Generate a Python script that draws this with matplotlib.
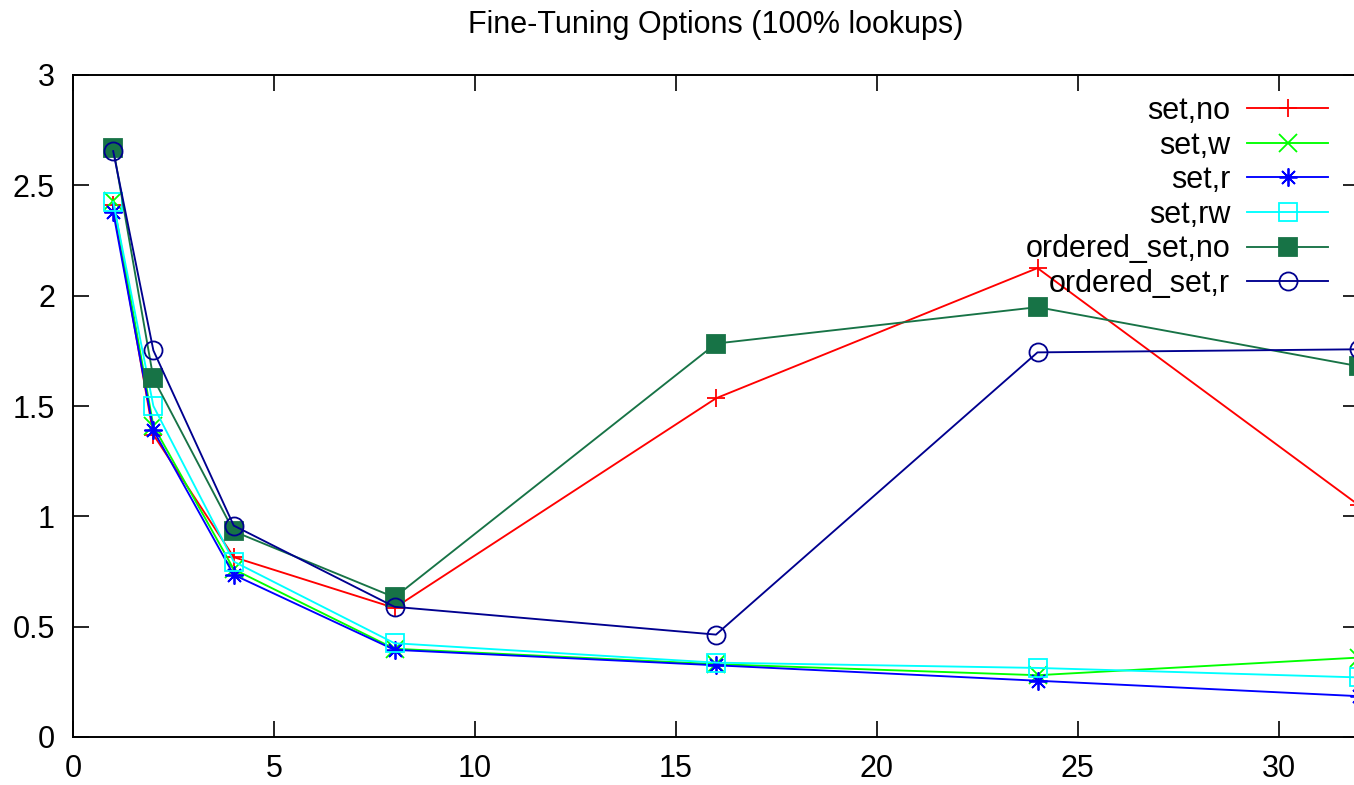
import matplotlib
matplotlib.use("Agg")
import matplotlib.pyplot as plt

plt.rcParams['font.family'] = ['Liberation Sans', 'DejaVu Sans']

threads = [1, 2, 4, 8, 16, 24, 32]

set_no = [2.41, 1.37, 0.815, 0.585, 1.535, 2.125, 1.05]
set_w = [2.43, 1.41, 0.76, 0.40, 0.33, 0.28, 0.36]
set_r = [2.38, 1.39, 0.735, 0.395, 0.325, 0.255, 0.185]
set_rw = [2.425, 1.50, 0.795, 0.425, 0.337, 0.313, 0.27]
ordered_set_no = [2.67, 1.625, 0.932, 0.633, 1.783, 1.948, 1.68]
ordered_set_r = [2.655, 1.752, 0.958, 0.59, 0.464, 1.743, 1.757]

labels = ["set,no", "set,w", "set,r", "set,rw", "ordered_set,no", "ordered_set,r"]
series = [set_no, set_w, set_r, set_rw, ordered_set_no, ordered_set_r]
colors = ["#ff0000", "#00ff00", "#0000ff", "#00ffff", "#177346", "#00008f"]
markers = ["+", "x", (8, 2, 0), "s", "s", "o"]
fills = ["full", "full", "full", "none", "full", "none"]

xticks = [0, 5, 10, 15, 20, 25, 30]
yticks = [0, 0.5, 1, 1.5, 2, 2.5, 3]
yticklabels = ["0", "0.5", "1", "1.5", "2", "2.5", "3"]

W, H = 1354, 785
fig = plt.figure(figsize=(W / 100, H / 100), dpi=100)
ax = fig.add_axes([73 / W, 48 / H, (1359 - 73) / W, (737 - 75) / H])

for lab, ys, c, m, f in zip(labels, series, colors, markers, fills):
    ax.plot(threads, ys, color=c, marker=m, fillstyle=f, markersize=13,
            markeredgewidth=1.3, linewidth=1.35, label=lab)

ax.set_xlim(0, 32)
ax.set_ylim(0, 3)
ax.set_xticks(xticks)
ax.set_xticklabels([str(t) for t in xticks])
ax.set_yticks(yticks)
ax.set_yticklabels(yticklabels)
ax.tick_params(direction='in', length=11.5, width=1.2, labelsize=22,
               top=True, right=True, pad=13)
ax.tick_params(axis='x', pad=12.5)
for s in ax.spines.values():
    s.set_linewidth(1.4)

ax.set_title("Fine-Tuning Options (100% lookups)", fontsize=22, pad=30.5)

leg = ax.legend(loc='upper right', bbox_to_anchor=(1328 / W, 1 - 96 / H),
                bbox_transform=fig.transFigure, frameon=False, markerfirst=False,
                fontsize=22, borderpad=0, borderaxespad=0, handlelength=2.65,
                handletextpad=0.55, labelspacing=0.15)

fig.savefig("out.png", dpi=100)
